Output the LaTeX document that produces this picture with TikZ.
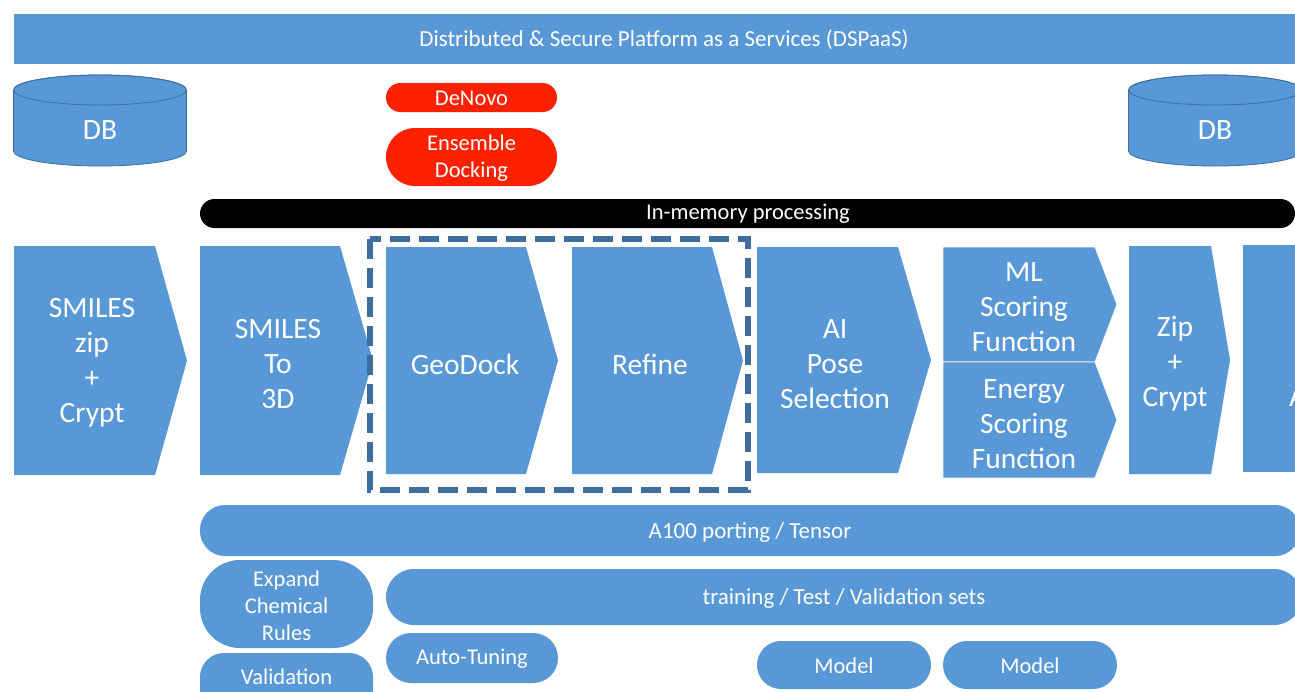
\documentclass[tikz,border=0pt]{standalone}
\usepackage{fontspec}
\setmainfont{Carlito}
\definecolor{office}{RGB}{88,152,214}
\definecolor{dashblue}{RGB}{62,110,160}
\definecolor{hotred}{RGB}{255,32,0}
\begin{document}
\begin{tikzpicture}[x=1pt,y=-1pt,
  blk/.style={fill=office,draw=none},
  sep/.style={fill=office,draw=white,line width=0.8pt},
  big/.style={text=white,align=center,inner sep=0pt,font=\fontsize{29.5}{35}\selectfont},
  mid/.style={text=white,align=center,inner sep=0pt,font=\fontsize{23}{28}\selectfont},
  sml/.style={text=white,align=center,inner sep=0pt,font=\fontsize{22.5}{27}\selectfont},
  redpill/.style={fill=hotred,draw=none}]
\useasboundingbox (0,0) rectangle (1295,691);
\clip (0,0) rectangle (1295,691);
\fill[white] (0,0) rectangle (1295,691);

% top bar
\fill[blk] (14,14) rectangle (1320,64);
\node[mid] (dspaas) at (664,40) {Distributed \& Secure Platform as a Services (DSPaaS)};

% databases
\foreach \x/\nm in {100/dbl,1215/dbr}{
  \filldraw[fill=office,draw=dashblue,line width=0.8pt]
    (\x-86.5,90) -- (\x-86.5,151) arc[start angle=180,end angle=0,x radius=86.5,y radius=15]
    -- (\x+86.5,90) arc[start angle=0,end angle=-180,x radius=86.5,y radius=15] -- cycle;
  \draw[dashblue,line width=0.8pt] (\x,90) ellipse[x radius=86.5,y radius=15];
  \node[big] (\nm) at (\x,130) {DB};
}

% red pills
\fill[redpill,rounded corners=14.5pt] (386,83) rectangle (557,112);
\node[sml] (denovo) at (471.5,98) {DeNovo};
\fill[redpill,rounded corners=29pt] (386,128) rectangle (557,186);
\node[sml] (ensemble) at (471.5,158) {Ensemble\\Docking};

% black bar
\fill[black,rounded corners=14.5pt] (200,199) rectangle (1295,228);
\node[mid,font=\fontsize{22.5}{27}\selectfont] (inmem) at (748,214) {In-memory processing};

% chevrons
\newcommand\chevshape[5]{\fill[blk] (#1,#4) -- (#2,#4) -- (#3,{(#4+#5)/2}) -- (#2,#5) -- (#1,#5) -- cycle;}
\chevshape{14}{155}{187}{246}{475}
\node[big] (smileszip) at (92,363) {SMILES\\zip\\+\\Crypt};
\chevshape{200}{340}{373}{246}{475}
\node[big] (smiles3d) at (278,364) {SMILES\\To\\3D};
\chevshape{386}{526}{558}{247}{474}
\node[big] (geodock) at (465,364) {GeoDock};
\chevshape{572}{712}{743}{247}{474}
\node[big] (refine) at (650,364) {Refine};
\chevshape{757}{898}{931}{247}{473}
\node[big] (aipose) at (835,364) {AI\\Pose\\Selection};
\filldraw[sep] (943,247) -- (1095,247) -- (1117,304.5) -- (1095,362) -- (943,362) -- cycle;
\node[big] (mlscore) at (1024,307) {ML\\Scoring\\Function};
\filldraw[sep] (943,362) -- (1095,362) -- (1117,420) -- (1095,478) -- (943,478) -- cycle;
\node[big] (energy) at (1024,424) {Energy\\Scoring\\Function};
\chevshape{1129}{1211}{1230}{246}{474}
\node[big] (zipcrypt) at (1175,364) {Zip\\+\\Crypt};
\fill[blk] (1243,245) rectangle (1320,472);
\node[big,anchor=base west] (partial) at (1289,406) {A};

% dashed box
\draw[dashblue,line width=6.5pt,dash pattern=on 20pt off 9pt] (370,239) rectangle (748,490);

% bottom bars
\fill[blk,rounded corners=25pt] (200,505) rectangle (1300,556);
\node[mid] (a100) at (750,532) {A100 porting / Tensor};
\fill[blk,rounded corners=28pt] (386,569) rectangle (1302,625);
\node[mid] (training) at (844,598) {training / Test / Validation sets};
\fill[blk,rounded corners=40pt] (200,560) rectangle (373,648);
\node[sml] (expand) at (286.5,606) {Expand\\Chemical\\Rules};
\fill[blk,rounded corners=24pt] (200,653) rectangle (373,720);
\node[sml] (validation) at (286.5,677) {Validation};
\fill[blk,rounded corners=25pt] (386,633) rectangle (558,683);
\node[sml] (autotune) at (472,659) {Auto-Tuning};
\fill[blk,rounded corners=24pt] (757,641) rectangle (931,689);
\node[sml] (model1) at (844,666) {Model};
\fill[blk,rounded corners=24pt] (943,641) rectangle (1117,689);
\node[sml] (model2) at (1030,666) {Model};
\end{tikzpicture}
\end{document}
